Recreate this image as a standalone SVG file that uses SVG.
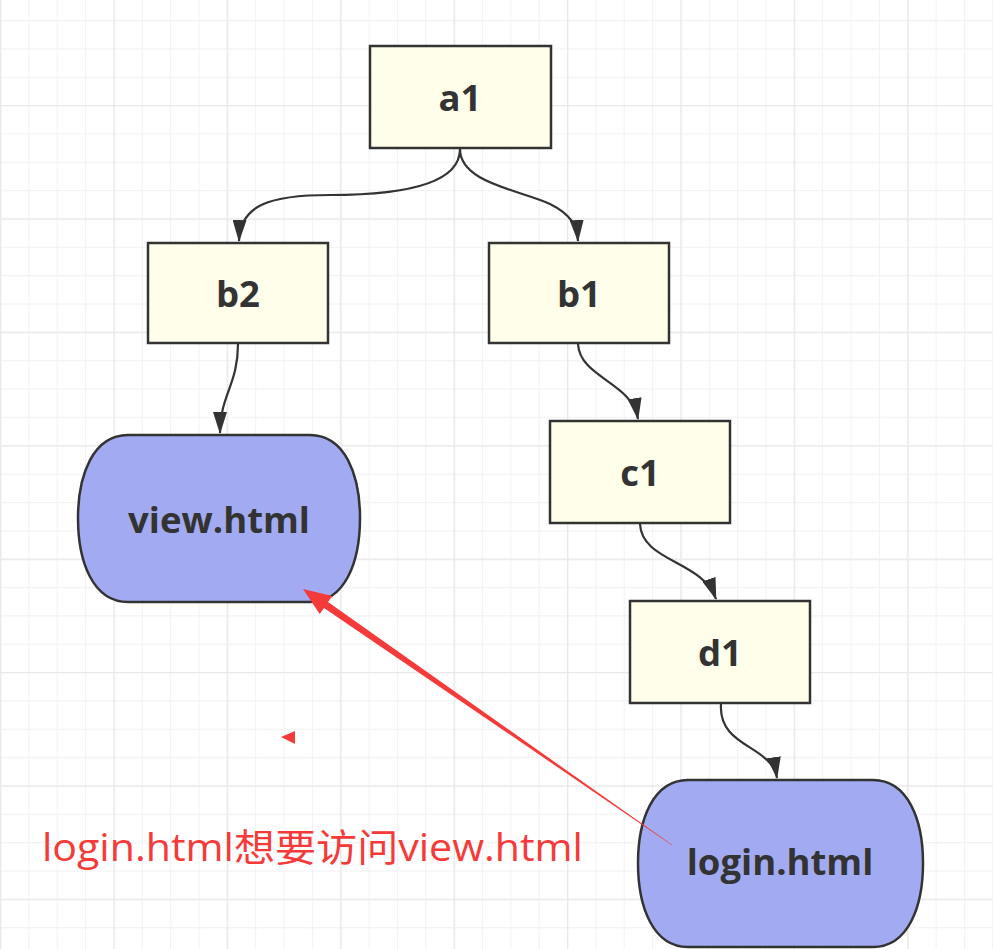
<svg xmlns="http://www.w3.org/2000/svg" width="993" height="949" viewBox="0 0 993 949">
<style>
.box{fill:#fefeea;stroke:#333;stroke-width:2.5}
.term{fill:#a2abf1;stroke:#333;stroke-width:2.5}
.lbl{font-family:"Open Sans","Noto Sans",sans-serif;font-weight:bold;font-size:36.5px;fill:#333;text-anchor:middle}
.edge{fill:none;stroke:#333;stroke-width:2.2;marker-end:url(#ah)}
.note{font-family:"Open Sans","Noto Sans CJK SC",sans-serif;font-size:38px;fill:#f53a3a}
</style>
<defs>
<pattern id="minor" patternUnits="userSpaceOnUse" x="0" y="19.95" width="28.35" height="28.35">
<path d="M0.5 0 V28.35 M0 0.5 H28.35" stroke="#f2f2f2" stroke-width="1.2" fill="none"/>
</pattern>
<pattern id="major" patternUnits="userSpaceOnUse" x="0" y="-8.4" width="113.4" height="113.4">
<path d="M0.5 0 V113.4 M0 0.5 H113.4" stroke="#e9e9e9" stroke-width="1.6" fill="none"/>
</pattern>
<marker id="ah" markerUnits="userSpaceOnUse" viewBox="0 0 22 14" refX="21" refY="7" markerWidth="22" markerHeight="14" orient="auto">
<path d="M0 0 L22 7 L0 14 Z" fill="#333"/>
</marker>
</defs>
<rect width="993" height="949" fill="#fff"/>
<rect width="993" height="949" fill="url(#minor)"/>
<rect width="993" height="949" fill="url(#major)"/>

<g id="connectors">
<path class="edge" d="M460 149 C460 185 400 195 330 195 C270 195 240 205 239 241"/>
<path class="edge" d="M460 149 C460 183 520 190 550 204 C570 214 577 225 578 241"/>
<path class="edge" d="M238 344 C238 385 220 395 220 433"/>
<path class="edge" d="M578 344 C580 378 632 382 638 419"/>
<path class="edge" d="M640 524 C642 562 702 560 716 599"/>
<path class="edge" d="M721 704 C718 748 772 745 777 778"/>
</g>

<g id="a1"><rect class="box" x="370" y="46" width="181" height="102"/><text class="lbl" x="460" y="111">a1</text></g>
<g id="b2"><rect class="box" x="148" y="243" width="180" height="100"/><text class="lbl" x="238" y="307">b2</text></g>
<g id="b1"><rect class="box" x="489" y="243" width="180" height="100"/><text class="lbl" x="579" y="307">b1</text></g>
<g id="c1"><rect class="box" x="550" y="421" width="180" height="102"/><text class="lbl" x="640" y="486">c1</text></g>
<g id="d1"><rect class="box" x="630" y="601" width="180" height="102"/><text class="lbl" x="720" y="666">d1</text></g>
<g id="view"><path class="term" d="M128 435 H310 C345 435 360 475 360 518 C360 562 345 602 310 602 H128 C93 602 78 562 78 518 C78 475 93 435 128 435 Z"/><text class="lbl" x="219" y="533">view.html</text></g>
<g id="login"><path class="term" d="M688 780 H873 C908 780 923 820 923 863 C923 907 908 947 873 947 H688 C653 947 638 907 638 863 C638 820 653 780 688 780 Z"/><text class="lbl" x="780" y="875">login.html</text></g>

<g id="annotation">
<polygon points="303,589 319.7,614 324,607.9 672.3,845.4 671.7,844.6 328,602 332.3,596" fill="#f53a3a"/>
<polygon points="281,737 295,731 295,744" fill="#f53a3a"/>
<text class="note" x="42" y="861" textLength="541" lengthAdjust="spacingAndGlyphs">login.html想要访问view.html</text>
</g>
</svg>
